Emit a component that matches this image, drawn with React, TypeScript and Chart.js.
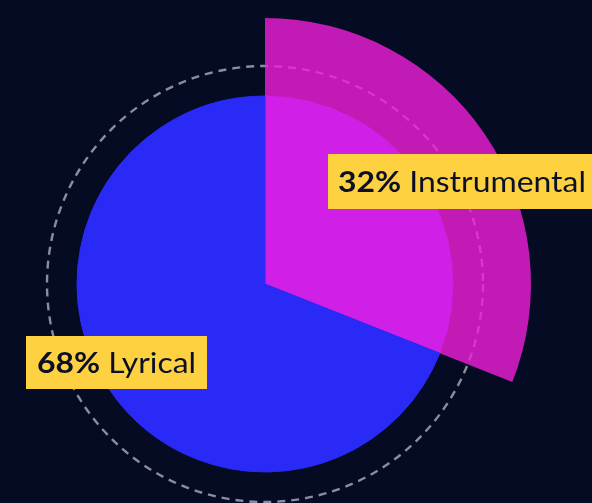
import { useEffect, useRef } from 'react';
import { Chart, registerables } from 'chart.js';

Chart.register(...registerables);

// Data
const categories = ['Instrumental', 'Lyrical'];
const shares = [31, 69];
const shareLabels = ['32%', '68%'];

const BG = '#050b23';
const MAGENTA = '#d01fe6';
const MAGENTA_OVERLAY = 'rgba(240,30,218,0.8)';
const BLUE = '#2a2af7';
const YELLOW = '#fed141';
const INK = '#0b1026';
const FONT = 'Lato, "DejaVu Sans", sans-serif';

export default function App() {
  const ref = useRef<HTMLCanvasElement>(null);

  useEffect(() => {
    const canvas = ref.current;
    if (!canvas) return;

    const deco = {
      id: 'deco',
      beforeDatasetsDraw(chart: any) {
        const arc = chart.getDatasetMeta(1).data[0];
        const c = chart.ctx;
        c.save();
        c.setLineDash([8, 6]);
        c.lineWidth = 2.4;
        c.strokeStyle = '#8a8e9c';
        c.beginPath();
        c.arc(arc.x, arc.y, 218, 0, Math.PI * 2);
        c.stroke();
        c.restore();
      },
      afterDraw(chart: any) {
        const c = chart.ctx;
        const sx = 1.1;
        const boxes = [
          { left: 328, top: 154, h: 55, pad: 10, pct: shareLabels[0], name: categories[0] },
          { left: 26, top: 336, h: 53, pad: 11, pct: shareLabels[1], name: categories[1] },
        ];
        c.save();
        c.textBaseline = 'middle';
        for (const b of boxes) {
          const size = 29;
          c.font = `bold ${size}px ${FONT}`;
          const w1 = c.measureText(b.pct).width * sx;
          c.font = `${size}px ${FONT}`;
          const w2 = c.measureText(' ' + b.name).width * sx;
          const w = w1 + w2 + b.pad * 2;
          c.fillStyle = YELLOW;
          c.fillRect(b.left, b.top, w, b.h);
          c.fillStyle = INK;
          const ty = b.top + b.h / 2 + 1;
          c.save();
          c.translate(b.left + b.pad, ty);
          c.scale(sx, 1);
          c.font = `bold ${size}px ${FONT}`;
          c.fillText(b.pct, 0, 0);
          c.font = `${size}px ${FONT}`;
          c.fillText(' ' + b.name, w1 / sx, 0);
          c.restore();
        }
        c.restore();
      },
    };

    const chart = new Chart(canvas, {
      type: 'pie',
      data: {
        labels: categories,
        datasets: [
          {
            data: shares,
            backgroundColor: [MAGENTA_OVERLAY, 'rgba(0,0,0,0)'],
            borderWidth: 0,
            weight: 78,
            radius: 266,
          } as any,
          {
            data: shares,
            backgroundColor: [MAGENTA, BLUE],
            borderColor: [MAGENTA, BLUE],
            borderWidth: 1,
            weight: 188,
            radius: 266,
          } as any,
        ],
      },
      options: {
        responsive: false,
        animation: false,
        events: [],
        layout: { padding: { left: 0, right: 62, top: 65, bottom: 0 } },
        plugins: {
          legend: { display: false },
          tooltip: { enabled: false },
        },
      },
      plugins: [deco],
    });

    return () => chart.destroy();
  }, []);

  return (
    <div
      style={{
        position: 'fixed',
        left: 0,
        top: 0,
        width: 592,
        height: 503,
        background: BG,
        overflow: 'hidden',
      }}
    >
      <canvas ref={ref} width={592} height={503} style={{ display: 'block' }} />
    </div>
  );
}
